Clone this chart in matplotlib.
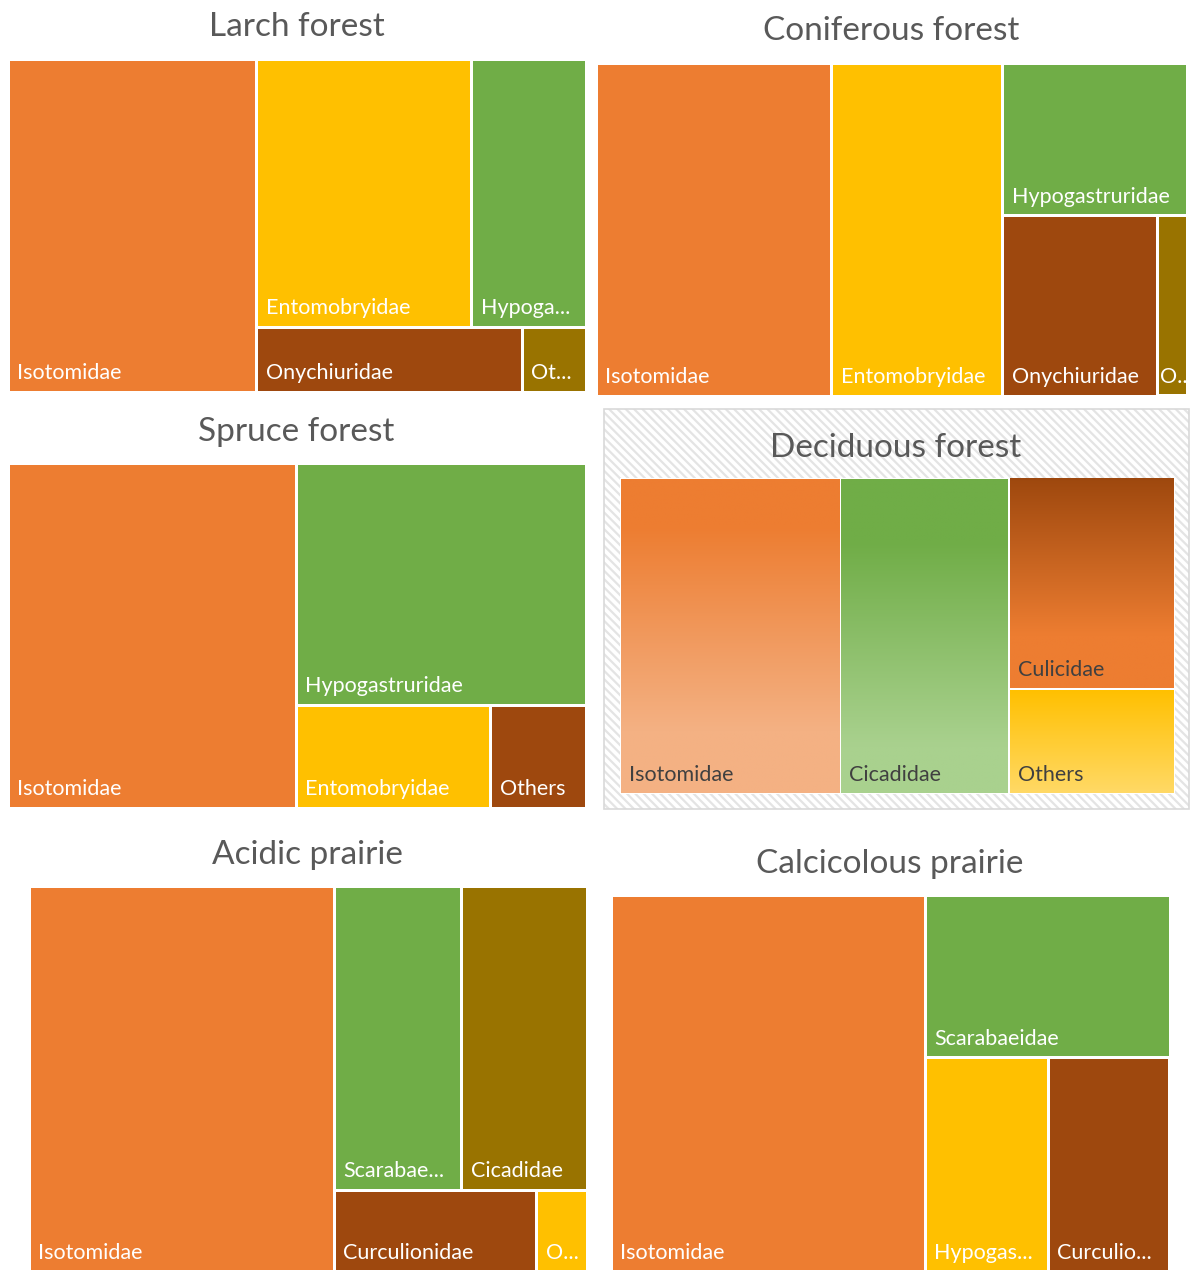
import numpy as np
import matplotlib
matplotlib.use("Agg")
import matplotlib.pyplot as plt
from matplotlib.patches import Rectangle
from matplotlib.colors import to_rgb

plt.rcParams['font.family'] = ['Lato', 'DejaVu Sans']

# === Data (share of individuals, %) ===
larch_names = ["Isotomidae", "Entomobryidae", "Hypoga...", "Onychiuridae", "Ot..."]
larch_vals = [43.0, 30.0, 15.9, 8.95, 2.15]

conif_names = ["Isotomidae", "Entomobryidae", "Hypogastruridae", "Onychiuridae", "O..."]
conif_vals = [39.9, 28.9, 14.3, 14.2, 2.7]

spruce_names = ["Isotomidae", "Hypogastruridae", "Entomobryidae", "Others"]
spruce_vals = [49.9, 35.2, 10.0, 4.9]

decid_names = ["Isotomidae", "Cicadidae", "Culicidae", "Others"]
decid_vals = [39.7, 30.4, 20.0, 9.9]

acid_names = ["Isotomidae", "Scarabae...", "Cicadidae", "Curculionidae", "O..."]
acid_vals = [54.7, 18.0, 17.7, 7.7, 1.9]

calc_names = ["Isotomidae", "Scarabaeidae", "Hypogas...", "Curculio..."]
calc_vals = [56.2, 18.9, 12.5, 12.4]

# === Colours ===
ORANGE, GOLD, GREEN, BROWN, OLIVE = "#ED7D31", "#FFC000", "#70AD47", "#9E480E", "#997300"

panels = [
    # title, names, values, colours, strip groups, plot rect (x, y, w, h), title pos
    ("Larch forest", larch_names, larch_vals, [ORANGE, GOLD, GREEN, BROWN, OLIVE],
     [1, 2, 1, 1], (8, 59, 578, 333), (297, 27)),
    ("Coniferous forest", conif_names, conif_vals, [ORANGE, GOLD, GREEN, BROWN, OLIVE],
     [1, 1, 1, 1, 1], (596, 63, 591, 333), (891, 31)),
    ("Spruce forest", spruce_names, spruce_vals, [ORANGE, GREEN, GOLD, BROWN],
     [1, 1, 1, 1], (8, 463, 578, 345), (296, 432)),
    ("Acidic prairie", acid_names, acid_vals, [ORANGE, GREEN, OLIVE, BROWN, GOLD],
     [1, 2, 1, 1], (29, 886, 558, 386), (307, 855)),
    ("Calcicolous prairie", calc_names, calc_vals, [ORANGE, GREEN, GOLD, BROWN],
     [1, 1, 1, 1], (611, 895, 559, 377), (890, 864)),
]

# gradient fills for the deciduous panel: (top colour, bottom colour, start, end)
decid_grads = [
    (ORANGE, "#F4B183", 0.15, 0.8),
    (GREEN, "#A9D18E", 0.2, 0.85),
    (BROWN, ORANGE, 0.0, 0.75),
    (GOLD, "#FFD966", 0.0, 1.0),
]


def layout(values, groups, x, y, w, h):
    # strips laid along the shorter side, group sizes given per panel
    scale = w * h / sum(values)
    rects = []
    i = 0
    for g in groups:
        vals = values[i:i + g]
        area = sum(vals) * scale
        if w >= h:
            t = area / h
            yy = y
            for v in vals:
                hh = v * scale / t
                rects.append((x, yy, t, hh))
                yy += hh
            x += t
            w -= t
        else:
            t = area / w
            xx = x
            for v in vals:
                ww = v * scale / t
                rects.append((xx, y, ww, t))
                xx += ww
            y += t
            h -= t
        i += g
    return rects


fig = plt.figure(figsize=(11.9, 12.7), dpi=100)
ax = fig.add_axes([0, 0, 1, 1])
ax.set_xlim(0, 1190)
ax.set_ylim(1270, 0)
ax.axis("off")

GAP = 1.5
TITLE_COL = "#595959"
LABEL_SIZE = 15.5
TITLE_SIZE = 24


def draw_labels(rects, names, color, z=3):
    for (x, y, w, h), name in zip(rects, names):
        pad = 9 if w > 40 else 2
        ax.text(x + pad, y + h - 13, name, color=color, fontsize=LABEL_SIZE,
                ha="left", va="baseline", zorder=z)


for title, names, vals, cols, groups, (px, py, pw, ph), (tx, ty) in panels:
    rects = layout(vals, groups, px, py, pw, ph)
    for (x, y, w, h), c in zip(rects, cols):
        ax.add_patch(Rectangle((x + GAP, y + GAP), w - 2 * GAP, h - 2 * GAP,
                               facecolor=c, edgecolor="none"))
    draw_labels(rects, names, "white")
    ax.text(tx, ty, title, color=TITLE_COL, fontsize=TITLE_SIZE, ha="center", va="center")

# === Deciduous forest (selected chart, hatched frame, gradient fills) ===
plt.rcParams['hatch.linewidth'] = 1.6
ax.add_patch(Rectangle((604, 409), 585, 400, facecolor="white", edgecolor="#E4E4E4",
                       hatch="\\\\\\\\", linewidth=0))
ax.add_patch(Rectangle((604, 409), 585, 400, facecolor="none", edgecolor="#D9D9D9",
                       linewidth=1.2))
dx, dy, dw, dh = 620, 478, 555, 316
ax.add_patch(Rectangle((dx, dy), dw, dh, facecolor="white", edgecolor="none"))
drects = layout(decid_vals, [1, 1, 1, 1], dx, dy, dw, dh)
for (x, y, w, h), (c0, c1, s0, s1) in zip(drects, decid_grads):
    n = 200
    t = np.clip((np.linspace(0, 1, n) - s0) / (s1 - s0), 0, 1)
    a, b = np.array(to_rgb(c0)), np.array(to_rgb(c1))
    img = (a[None, :] * (1 - t[:, None]) + b[None, :] * t[:, None])[:, None, :]
    ax.imshow(img, extent=(x + GAP - 0.5, x + w - GAP + 0.5, y + h - GAP + 0.5, y + GAP - 0.5),
              origin="upper", aspect="auto", interpolation="bilinear", zorder=2)
draw_labels(drects, decid_names, "#404040")
ax.text(896, 448, "Deciduous forest", color=TITLE_COL, fontsize=TITLE_SIZE,
        ha="center", va="center", zorder=3)

ax.set_xlim(0, 1190)
ax.set_ylim(1270, 0)

fig.savefig("out.png", dpi=100)
